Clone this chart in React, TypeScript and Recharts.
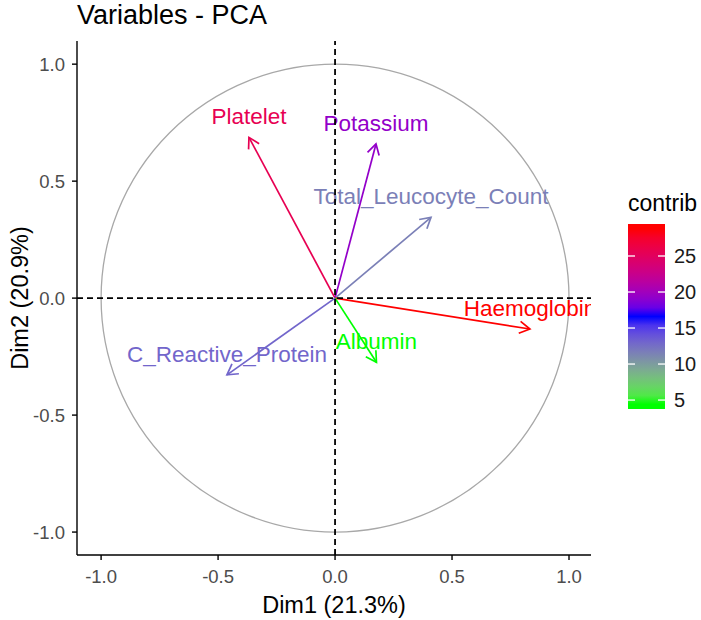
import { ComposedChart, XAxis, YAxis, Scatter, ReferenceLine } from "recharts";

// PCA variable loadings (Dim1, Dim2) and contribution
const variables = [
  "Platelet",
  "Potassium",
  "Total_Leucocyte_Count",
  "Haemoglobin",
  "Albumin",
  "C_Reactive_Protein",
];
const dim1 = [-0.368, 0.175, 0.41, 0.833, 0.177, -0.462];
const dim2 = [0.687, 0.659, 0.345, -0.132, -0.274, -0.328];
const contrib = [25.6, 19.3, 11.6, 28.8, 4.4, 13.0];

const axisTicks = [-1, -0.5, 0, 0.5, 1];
const legendTicks = [5, 10, 15, 20, 25];
const gradientCols = ["#00FF00", "#0000FF", "#FF0000"];

const FONT = "'Liberation Sans', Arial, sans-serif";

// colour ramp interpolated in Lab, like ggplot's gradientn
function toLin(v: number) {
  return v <= 0.04045 ? v / 12.92 : Math.pow((v + 0.055) / 1.055, 2.4);
}
function hexToLab(hex: string) {
  const c = [1, 3, 5].map((i) => toLin(parseInt(hex.slice(i, i + 2), 16) / 255));
  const X = (0.4124 * c[0] + 0.3576 * c[1] + 0.1805 * c[2]) / 0.95047;
  const Y = 0.2126 * c[0] + 0.7152 * c[1] + 0.0722 * c[2];
  const Z = (0.0193 * c[0] + 0.1192 * c[1] + 0.9505 * c[2]) / 1.08883;
  const f = (t: number) => (t > 0.008856 ? Math.cbrt(t) : 7.787 * t + 16 / 116);
  const fx = f(X), fy = f(Y), fz = f(Z);
  return [116 * fy - 16, 500 * (fx - fy), 200 * (fy - fz)];
}
function labToHex(lab: number[]) {
  const [L, a, b] = lab;
  const fy = (L + 16) / 116, fx = fy + a / 500, fz = fy - b / 200;
  const inv = (t: number) => (t ** 3 > 0.008856 ? t ** 3 : (t - 16 / 116) / 7.787);
  const X = inv(fx) * 0.95047, Y = inv(fy), Z = inv(fz) * 1.08883;
  const lin = [
    3.2406 * X - 1.5372 * Y - 0.4986 * Z,
    -0.9689 * X + 1.8758 * Y + 0.0415 * Z,
    0.0557 * X - 0.204 * Y + 1.057 * Z,
  ];
  return (
    "#" +
    lin
      .map((v) => {
        v = Math.min(1, Math.max(0, v));
        const s = v <= 0.0031308 ? 12.92 * v : 1.055 * Math.pow(v, 1 / 2.4) - 0.055;
        return Math.round(s * 255).toString(16).padStart(2, "0");
      })
      .join("")
  );
}
const labs = gradientCols.map(hexToLab);
function ramp(t: number) {
  const seg = Math.min(1, Math.floor(t * 2));
  const u = t * 2 - seg;
  const a = labs[seg], b = labs[seg + 1];
  return labToHex(a.map((v, i) => v + (b[i] - v) * u));
}

const cMin = Math.min(...contrib);
const cMax = Math.max(...contrib);
const colorOf = (v: number) => ramp((v - cMin) / (cMax - cMin));

const points = variables.map((name, i) => ({
  name,
  x: dim1[i],
  y: dim2[i],
  contrib: contrib[i],
  color: colorOf(contrib[i]),
}));

function Arrow(props: any, p: (typeof points)[number]) {
  const { x1, y1, x2, y2, clipPath } = props;
  const ang = Math.atan2(y2 - y1, x2 - x1);
  const len = 12;
  const spread = Math.PI / 6;
  const ax = x2 - len * Math.cos(ang - spread);
  const ay = y2 - len * Math.sin(ang - spread);
  const bx = x2 - len * Math.cos(ang + spread);
  const by = y2 - len * Math.sin(ang + spread);
  return (
    <g clipPath={clipPath}>
      <line x1={x1} y1={y1} x2={x2} y2={y2} stroke={p.color} strokeWidth={1.7} />
      <polyline
        points={`${ax},${ay} ${x2},${y2} ${bx},${by}`}
        fill="none"
        stroke={p.color}
        strokeWidth={1.7}
      />
      <text
        x={x2}
        y={y2 - 13}
        textAnchor="middle"
        fontSize={22.5}
        fontFamily={FONT}
        fill={p.color}
      >
        {p.name}
      </text>
    </g>
  );
}

// legend geometry
const barX = 628, barW = 37, barTop = 224, barH = 185;
const pad = barH / 40;
const legendY = (v: number) =>
  barTop + barH - pad - ((v - cMin) / (cMax - cMin)) * (barH - 2 * pad);

export default function App() {
  const stops = Array.from({ length: 21 }, (_, i) => i / 20);
  return (
    <div style={{ position: "relative", width: 701, height: 620 }}>
      <style>{`body{margin:0}`}</style>
      <ComposedChart
        width={701}
        height={620}
        data={points}
        margin={{ top: 41, right: 110, bottom: 0, left: 0 }}
      >
        <XAxis
          type="number"
          dataKey="x"
          domain={[-1.103, 1.094]}
          allowDataOverflow
          ticks={axisTicks}
          interval={0}
          height={65}
          tickSize={5}
          tickMargin={10}
          tickFormatter={(v: number) => v.toFixed(1)}
          tick={{ fill: "#4d4d4d", fontSize: 18.5, fontFamily: FONT }}
          axisLine={{ stroke: "#000", strokeWidth: 1.4 }}
          tickLine={{ stroke: "#000", strokeWidth: 1.4 }}
        />
        <YAxis
          type="number"
          dataKey="y"
          domain={[-1.098, 1.099]}
          allowDataOverflow
          ticks={axisTicks}
          interval={0}
          width={77}
          tickSize={5}
          tickMargin={7}
          tickFormatter={(v: number) => v.toFixed(1)}
          tick={{ fill: "#4d4d4d", fontSize: 18.5, fontFamily: FONT }}
          axisLine={{ stroke: "#000", strokeWidth: 1.4 }}
          tickLine={{ stroke: "#000", strokeWidth: 1.4 }}
        />
        <Scatter dataKey="y" shape={() => <g />} isAnimationActive={false} />
        {/* correlation circle */}
        <ReferenceLine
          segment={[
            { x: -1, y: 0 },
            { x: 1, y: 0 },
          ]}
          ifOverflow="visible"
          shape={(p: any) => (
            <ellipse
              cx={(p.x1 + p.x2) / 2}
              cy={p.y1}
              rx={Math.abs(p.x2 - p.x1) / 2}
              ry={Math.abs(p.x2 - p.x1) / 2}
              fill="none"
              stroke="#a8a8a8"
              strokeWidth={1.3}
            />
          )}
        />
        {points.map((p) => (
          <ReferenceLine
            key={p.name}
            segment={[
              { x: 0, y: 0 },
              { x: p.x, y: p.y },
            ]}
            ifOverflow="hidden"
            shape={(props: any) => Arrow(props, p)}
          />
        ))}
        <ReferenceLine x={0} stroke="#000" strokeWidth={1.8} strokeDasharray="6 4" />
        <ReferenceLine y={0} stroke="#000" strokeWidth={1.8} strokeDasharray="6 4" />
      </ComposedChart>

      <svg
        width={701}
        height={620}
        style={{ position: "absolute", left: 0, top: 0, pointerEvents: "none" }}
        fontFamily={FONT}
      >
        <defs>
          <linearGradient id="contribGrad" x1="0" y1="1" x2="0" y2="0">
            {stops.map((t) => (
              <stop
                key={t}
                offset={(pad + t * (barH - 2 * pad)) / barH}
                stopColor={ramp(t)}
              />
            ))}
          </linearGradient>
        </defs>
        <text x={77} y={24} fontSize={27} fill="#000">
          Variables - PCA
        </text>
        <text x={334} y={613} fontSize={23.5} fill="#000" textAnchor="middle">
          Dim1 (21.3%)
        </text>
        <text
          x={28}
          y={298}
          fontSize={23.5}
          fill="#000"
          textAnchor="middle"
          transform="rotate(-90 28 298)"
        >
          Dim2 (20.9%)
        </text>
        <text x={barX} y={211} fontSize={23} fill="#000">
          contrib
        </text>
        <rect x={barX} y={barTop} width={barW} height={barH} fill="url(#contribGrad)" />
        {legendTicks.map((v) => (
          <g key={v}>
            <line x1={barX} x2={barX + 7} y1={legendY(v)} y2={legendY(v)} stroke="#fff" strokeWidth={1.3} />
            <line x1={barX + barW - 7} x2={barX + barW} y1={legendY(v)} y2={legendY(v)} stroke="#fff" strokeWidth={1.3} />
            <text x={674} y={legendY(v)} dy="0.36em" fontSize={20} fill="#1a1a1a">
              {v}
            </text>
          </g>
        ))}
      </svg>
    </div>
  );
}
